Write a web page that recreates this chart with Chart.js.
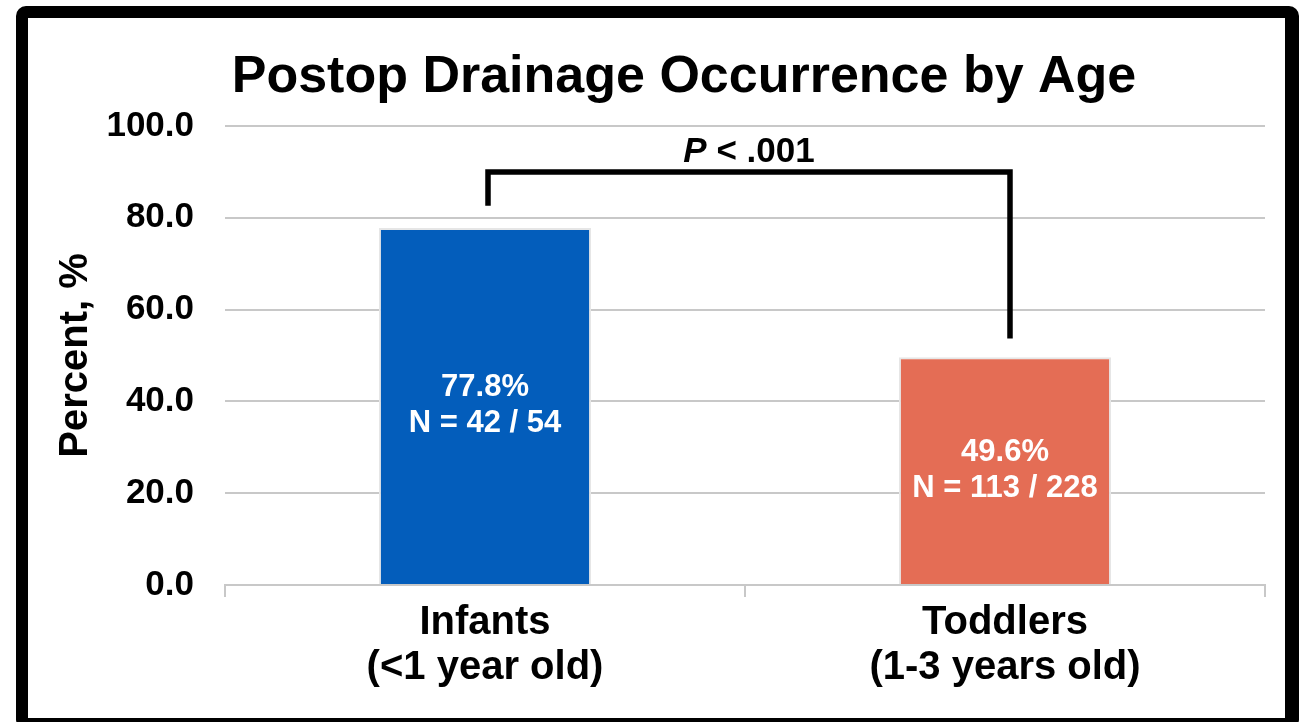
<!DOCTYPE html>
<html>
<head>
<meta charset="utf-8">
<script src="https://cdn.jsdelivr.net/npm/chart.js@4.4.0/dist/chart.umd.min.js"></script>
<style>
  html, body { margin:0; padding:0; background:#fff; overflow:hidden; width:1304px; height:722px; }
  #wrap { position:absolute; left:0; top:0; width:1304px; height:722px; }
  #frame { position:absolute; left:16px; top:6px; width:1283px; height:724px; box-sizing:border-box;
           border:12px solid #000; border-right-width:14px; border-radius:10px; pointer-events:none; }
</style>
</head>
<body>
<div id="wrap"><canvas id="c" width="1304" height="722"></canvas></div>
<div id="frame"></div>
<script>
// ---- data ----
const chartTitle = 'Postop Drainage Occurrence by Age';
const categories = [['Infants', '(<1 year old)'], ['Toddlers', '(1-3 years old)']];
const percentValues = [77.8, 49.6];
const eventCounts = [42, 113];
const groupTotals = [54, 228];
const percentLabels = ['77.8%', '49.6%'];
const yTickValues = [0, 20, 40, 60, 80, 100];
const yTickLabels = ['0.0', '20.0', '40.0', '60.0', '80.0', '100.0'];
const barColors = ['#035DBB', '#E46D55'];
const pValueText = ['P', ' < .001'];
// bracket heights (in % units): left end, top, right end
const bracketLeftEnd = 82.6;
const bracketTop = 90.0;
const bracketRightEnd = 53.7;
const pLabelLevel = 94.3;

const FONT = "'Liberation Sans', Arial, Helvetica, sans-serif";

const titlePlugin = {
  id: 'customTitle',
  afterDraw(chart) {
    const ctx = chart.ctx;
    ctx.save();
    ctx.fillStyle = '#000';
    ctx.font = 'bold 52px ' + FONT;
    ctx.textAlign = 'center';
    ctx.textBaseline = 'alphabetic';
    ctx.fillText(chartTitle, 684, 92);
    ctx.restore();
  }
};

const barLabelPlugin = {
  id: 'barLabels',
  afterDatasetsDraw(chart) {
    const ctx = chart.ctx;
    const meta = chart.getDatasetMeta(0);
    ctx.save();
    ctx.fillStyle = '#fff';
    ctx.font = 'bold 31px ' + FONT;
    ctx.textAlign = 'center';
    ctx.textBaseline = 'middle';
    meta.data.forEach((bar, i) => {
      const mid = (bar.y + bar.base) / 2;
      ctx.fillText(percentLabels[i], bar.x, mid - 18);
      ctx.fillText('N = ' + eventCounts[i] + ' / ' + groupTotals[i], bar.x, mid + 18);
    });
    ctx.restore();
  }
};

const bracketPlugin = {
  id: 'bracket',
  afterDatasetsDraw(chart) {
    const ctx = chart.ctx;
    const xs = chart.scales.x, ys = chart.scales.y;
    const x1 = xs.getPixelForValue(0) + 3;
    const x2 = xs.getPixelForValue(1) + 5;
    ctx.save();
    ctx.strokeStyle = '#000';
    ctx.lineWidth = 5.5;
    ctx.lineJoin = 'miter';
    ctx.lineCap = 'butt';
    ctx.beginPath();
    ctx.moveTo(x1, ys.getPixelForValue(bracketLeftEnd));
    ctx.lineTo(x1, ys.getPixelForValue(bracketTop));
    ctx.lineTo(x2, ys.getPixelForValue(bracketTop));
    ctx.lineTo(x2, ys.getPixelForValue(bracketRightEnd));
    ctx.stroke();
    // P value label
    const cx = (x1 + x2) / 2;
    const cy = ys.getPixelForValue(pLabelLevel);
    ctx.fillStyle = '#000';
    ctx.textBaseline = 'middle';
    ctx.textAlign = 'left';
    const f1 = 'italic bold 35px ' + FONT;
    const f2 = 'bold 35px ' + FONT;
    ctx.font = f1; const w1 = ctx.measureText(pValueText[0]).width;
    ctx.font = f2; const w2 = ctx.measureText(pValueText[1]).width;
    const start = cx - (w1 + w2) / 2;
    ctx.font = f1; ctx.fillText(pValueText[0], start, cy);
    ctx.font = f2; ctx.fillText(pValueText[1], start + w1, cy);
    ctx.restore();
  }
};

new Chart(document.getElementById('c'), {
  type: 'bar',
  data: {
    labels: categories,
    datasets: [{
      data: percentValues,
      backgroundColor: barColors,
      borderColor: '#E6E6E6',
      borderWidth: 2,
      categoryPercentage: 1.0,
      barPercentage: 0.408
    }]
  },
  options: {
    responsive: false,
    animation: false,
    events: [],
    layout: { padding: { left: 52, right: 39, top: 126, bottom: 29 } },
    plugins: {
      legend: { display: false },
      tooltip: { enabled: false },
      title: { display: false }
    },
    scales: {
      x: {
        grid: { offset: true, drawOnChartArea: false, drawTicks: true, tickLength: 12, color: '#C8C8C8', lineWidth: 2 },
        border: { display: true, color: '#C8C8C8', width: 2 },
        ticks: {
          color: '#000', padding: 3,
          font: { family: FONT, size: 40, weight: 'bold', lineHeight: 1.125 }
        }
      },
      y: {
        min: 0, max: 100,
        afterFit(s) { s.width = 173; },
        afterBuildTicks(s) { s.ticks = yTickValues.map(v => ({ value: v })); },
        grid: { drawTicks: false, color: '#C8C8C8', lineWidth: 2 },
        border: { display: false },
        ticks: {
          color: '#000', padding: 31,
          font: { family: FONT, size: 35, weight: 'bold' },
          callback: (v) => yTickLabels[yTickValues.indexOf(v)]
        },
        title: {
          display: true, text: 'Percent, %', color: '#000',
          font: { family: FONT, size: 40, weight: 'bold', lineHeight: 1.2 },
          padding: { top: 0, bottom: 8 }
        }
      }
    }
  },
  plugins: [barLabelPlugin, bracketPlugin, titlePlugin]
});
</script>
</body>
</html>
